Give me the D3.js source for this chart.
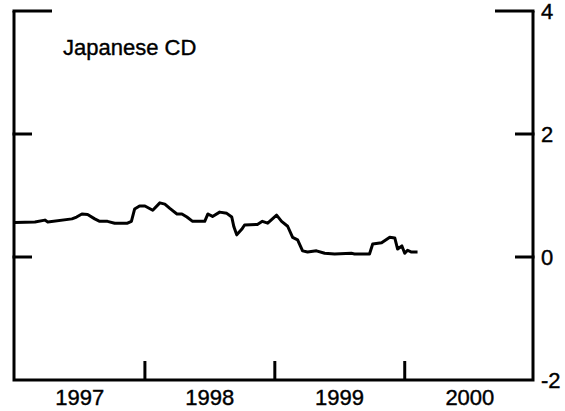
<!DOCTYPE html>
<html>
<head>
<meta charset="utf-8">
<script src="https://cdn.jsdelivr.net/npm/d3@7"></script>
<style>
  body { margin: 0; background: #fff; }
  text { font-family: "Liberation Sans", Arial, Helvetica, sans-serif; fill: #000; stroke: #000; stroke-width: 0.4px; }
</style>
</head>
<body>
<script>
// Japanese CD rate
var dates = ["1997-01-01", "1997-02-26", "1997-03-26", "1997-04-03", "1997-06-10", "1997-06-23",
	"1997-07-08", "1997-07-24", "1997-08-13", "1997-08-27", "1997-09-18", "1997-10-08",
	"1997-11-13", "1997-11-24", "1997-12-03", "1997-12-17", "1998-01-01", "1998-01-23",
	"1998-02-12", "1998-02-26", "1998-03-12", "1998-04-01", "1998-04-15", "1998-04-29",
	"1998-05-15", "1998-06-18", "1998-06-27", "1998-07-10", "1998-07-30", "1998-08-19",
	"1998-09-02", "1998-09-08", "1998-09-16", "1998-09-30", "1998-10-08", "1998-11-13",
	"1998-11-27", "1998-12-12", "1999-01-06", "1999-01-20", "1999-02-06", "1999-02-20",
	"1999-03-06", "1999-03-20", "1999-04-03", "1999-04-28", "1999-05-21", "1999-06-18",
	"1999-08-04", "1999-08-13", "1999-09-24", "1999-10-03", "1999-10-28", "1999-11-20",
	"1999-12-04", "1999-12-12", "1999-12-24", "2000-01-01", "2000-01-09", "2000-01-20",
	"2000-02-06"];
var values = [0.56, 0.57, 0.60, 0.57, 0.62, 0.65,
	0.70, 0.69, 0.62, 0.58, 0.58, 0.55,
	0.55, 0.58, 0.78, 0.83, 0.83, 0.76,
	0.88, 0.86, 0.79, 0.70, 0.70, 0.65,
	0.58, 0.58, 0.70, 0.66, 0.73, 0.71,
	0.65, 0.49, 0.36, 0.45, 0.52, 0.53,
	0.58, 0.55, 0.68, 0.58, 0.50, 0.32,
	0.28, 0.10, 0.08, 0.10, 0.06, 0.05,
	0.06, 0.05, 0.05, 0.21, 0.23, 0.32,
	0.31, 0.13, 0.18, 0.06, 0.11, 0.08,
	0.08];
var years = [1997, 1998, 1999, 2000];
var yTicks = [4, 2, 0, -2];
var title = "Japanese CD";

var width = 565, height = 411;
var m = { left: 14, right: 533, top: 11, bottom: 380 };

var parse = d3.timeParse("%Y-%m-%d");
var data = dates.map(function(d, i) {
	return { date: parse(d), value: values[i] };
});

var svg = d3.select("body").append("svg")
	.attr("width", width)
	.attr("height", height);

var x = d3.scaleTime()
	.domain([new Date(1997, 0, 1), new Date(2001, 0, 1)])
	.range([m.left + 1, m.right + 2]);

var y = d3.scaleLinear()
	.domain([-2, 4])
	.range([m.bottom, m.top]);

var frame = svg.append("g")
	.attr("stroke", "#000")
	.attr("stroke-width", 3)
	.attr("fill", "none");

// left, right and bottom lines
frame.append("path")
	.attr("d", "M" + m.left + "," + y(4) + "V" + y(-2) + "H" + m.right + "V" + y(4));

// ticks on the value axis: long ones at the top, short ones at 2 and 0
yTicks.slice(0, 3).forEach(function(v) {
	var len = v === 4 ? 38 : 18;
	frame.append("line")
		.attr("x1", m.left - 1.5).attr("x2", m.left + len)
		.attr("y1", y(v)).attr("y2", y(v));
	frame.append("line")
		.attr("x1", m.right + 1.5).attr("x2", m.right - len)
		.attr("y1", y(v)).attr("y2", y(v));
});

// year boundary ticks
years.slice(1).forEach(function(yr) {
	var xx = x(new Date(yr, 0, 1));
	frame.append("line")
		.attr("x1", xx).attr("x2", xx)
		.attr("y1", m.bottom).attr("y2", m.bottom - 19);
});

// year labels in the middle of each year
svg.selectAll(".year")
	.data(years)
	.enter().append("text")
	.attr("class", "year")
	.attr("x", function(d) { return x(new Date(d, 6, 2)); })
	.attr("y", m.bottom + 25)
	.attr("text-anchor", "middle")
	.style("font-size", "22px")
	.text(function(d) { return d; });

// value labels on the right
svg.selectAll(".ylab")
	.data(yTicks)
	.enter().append("text")
	.attr("class", "ylab")
	.attr("x", m.right + 8)
	.attr("y", function(d) { return y(d) + 8; })
	.style("font-size", "22px")
	.text(function(d) { return d; });

svg.append("text")
	.attr("x", 63)
	.attr("y", 55)
	.style("font-size", "22px")
	.text(title);

var line = d3.line()
	.x(function(d) { return x(d.date); })
	.y(function(d) { return y(d.value); });

svg.append("path")
	.datum(data)
	.attr("fill", "none")
	.attr("stroke", "#000")
	.attr("stroke-width", 3)
	.attr("stroke-linejoin", "round")
	.attr("d", line);
</script>
</body>
</html>
